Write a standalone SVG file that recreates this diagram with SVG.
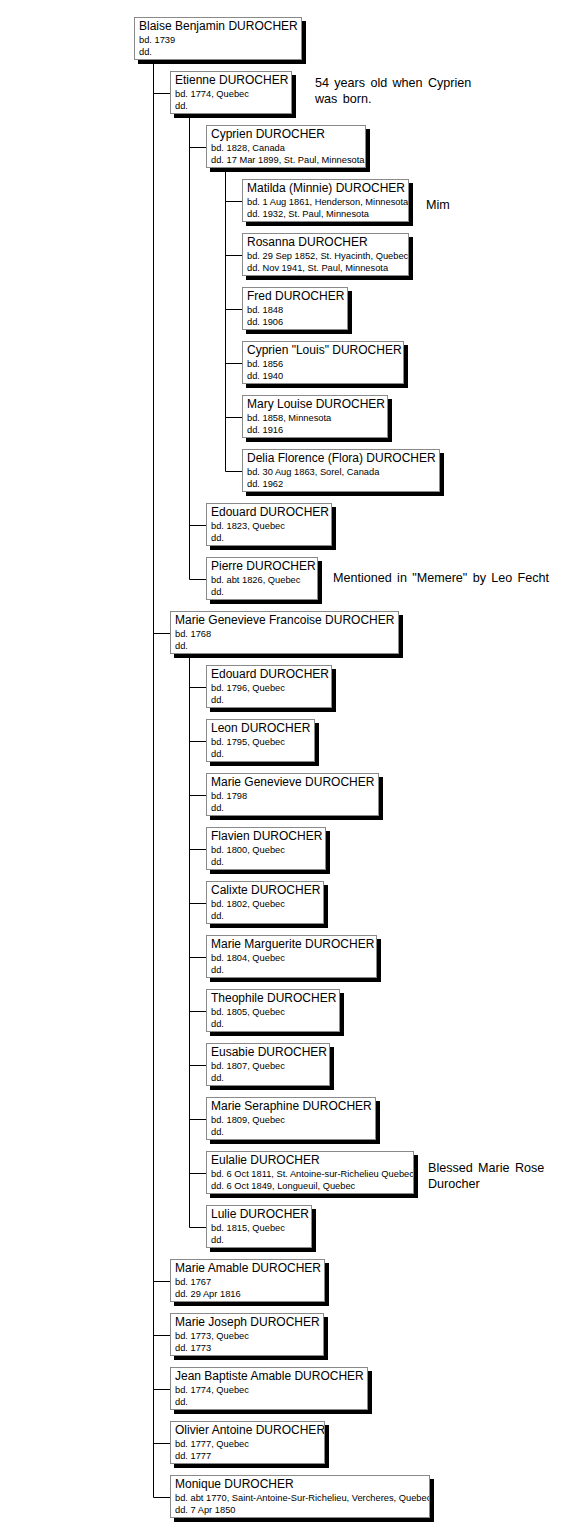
<svg xmlns="http://www.w3.org/2000/svg" width="575" height="1536" viewBox="0 0 575 1536">
<style>
.bg{fill:#ffffff}
.shadow{fill:#000000}
.box{fill:#ffffff;stroke:#8a8a8a;stroke-width:1}
.name{font-family:"Liberation Sans",Arial,sans-serif;font-size:12px;fill:#000}
.info{font-family:"Liberation Sans",Arial,sans-serif;font-size:9.3px;fill:#000}
.note{font-family:"Liberation Sans",Arial,sans-serif;font-size:12.6px;word-spacing:1.8px;fill:#000}
.conn{stroke:#000;stroke-width:1;fill:none}
</style>
<rect class="bg" x="0" y="0" width="575" height="1536"/>
<g id="connectors">
<path class="conn" d="M153.5 61V1497.5 M153.5 93.5H170 M153.5 633.5H170 M153.5 1281.5H170 M153.5 1335.5H170 M153.5 1389.5H170 M153.5 1443.5H170 M153.5 1497.5H170"/>
<path class="conn" d="M189.5 115V579.5 M189.5 147.5H206 M189.5 525.5H206 M189.5 579.5H206"/>
<path class="conn" d="M225.5 169V471.5 M225.5 201.5H242 M225.5 255.5H242 M225.5 309.5H242 M225.5 363.5H242 M225.5 417.5H242 M225.5 471.5H242"/>
<path class="conn" d="M189.5 655V1227.5 M189.5 687.5H206 M189.5 741.5H206 M189.5 795.5H206 M189.5 849.5H206 M189.5 903.5H206 M189.5 957.5H206 M189.5 1011.5H206 M189.5 1065.5H206 M189.5 1119.5H206 M189.5 1173.5H206 M189.5 1227.5H206"/>
</g>
<g id="n0"><rect class="shadow" x="138" y="21" width="168" height="43"/><rect class="box" x="134.5" y="17.5" width="167" height="42"/><svg x="135" y="18" width="166" height="41"><text class="name" x="4" y="12">Blaise Benjamin DUROCHER</text><text class="info" x="4" y="24.5">bd. 1739</text><text class="info" x="4" y="36.5">dd.</text></svg></g>
<g id="n1"><rect class="shadow" x="174" y="75" width="122" height="43"/><rect class="box" x="170.5" y="71.5" width="121" height="42"/><svg x="171" y="72" width="120" height="41"><text class="name" x="4" y="12">Etienne DUROCHER</text><text class="info" x="4" y="24.5">bd. 1774, Quebec</text><text class="info" x="4" y="36.5">dd.</text></svg></g>
<g id="n2"><rect class="shadow" x="210" y="129" width="160" height="43"/><rect class="box" x="206.5" y="125.5" width="159" height="42"/><svg x="207" y="126" width="158" height="41"><text class="name" x="4" y="12">Cyprien DUROCHER</text><text class="info" x="4" y="24.5">bd. 1828, Canada</text><text class="info" x="4" y="36.5">dd. 17 Mar 1899, St. Paul, Minnesota</text></svg></g>
<g id="n3"><rect class="shadow" x="246" y="183" width="167" height="43"/><rect class="box" x="242.5" y="179.5" width="166" height="42"/><svg x="243" y="180" width="165" height="41"><text class="name" x="4" y="12">Matilda (Minnie) DUROCHER</text><text class="info" x="4" y="24.5">bd. 1 Aug 1861, Henderson, Minnesota</text><text class="info" x="4" y="36.5">dd. 1932, St. Paul, Minnesota</text></svg></g>
<g id="n4"><rect class="shadow" x="246" y="237" width="167" height="43"/><rect class="box" x="242.5" y="233.5" width="166" height="42"/><svg x="243" y="234" width="165" height="41"><text class="name" x="4" y="12">Rosanna DUROCHER</text><text class="info" x="4" y="24.5">bd. 29 Sep 1852, St. Hyacinth, Quebec</text><text class="info" x="4" y="36.5">dd. Nov 1941, St. Paul, Minnesota</text></svg></g>
<g id="n5"><rect class="shadow" x="246" y="291" width="106" height="43"/><rect class="box" x="242.5" y="287.5" width="105" height="42"/><svg x="243" y="288" width="104" height="41"><text class="name" x="4" y="12">Fred DUROCHER</text><text class="info" x="4" y="24.5">bd. 1848</text><text class="info" x="4" y="36.5">dd. 1906</text></svg></g>
<g id="n6"><rect class="shadow" x="246" y="345" width="162" height="43"/><rect class="box" x="242.5" y="341.5" width="161" height="42"/><svg x="243" y="342" width="160" height="41"><text class="name" x="4" y="12">Cyprien "Louis" DUROCHER</text><text class="info" x="4" y="24.5">bd. 1856</text><text class="info" x="4" y="36.5">dd. 1940</text></svg></g>
<g id="n7"><rect class="shadow" x="246" y="399" width="146" height="43"/><rect class="box" x="242.5" y="395.5" width="145" height="42"/><svg x="243" y="396" width="144" height="41"><text class="name" x="4" y="12">Mary Louise DUROCHER</text><text class="info" x="4" y="24.5">bd. 1858, Minnesota</text><text class="info" x="4" y="36.5">dd. 1916</text></svg></g>
<g id="n8"><rect class="shadow" x="246" y="453" width="198" height="43"/><rect class="box" x="242.5" y="449.5" width="197" height="42"/><svg x="243" y="450" width="196" height="41"><text class="name" x="4" y="12">Delia Florence (Flora) DUROCHER</text><text class="info" x="4" y="24.5">bd. 30 Aug 1863, Sorel, Canada</text><text class="info" x="4" y="36.5">dd. 1962</text></svg></g>
<g id="n9"><rect class="shadow" x="210" y="507" width="126" height="43"/><rect class="box" x="206.5" y="503.5" width="125" height="42"/><svg x="207" y="504" width="124" height="41"><text class="name" x="4" y="12">Edouard DUROCHER</text><text class="info" x="4" y="24.5">bd. 1823, Quebec</text><text class="info" x="4" y="36.5">dd.</text></svg></g>
<g id="n10"><rect class="shadow" x="210" y="561" width="112" height="43"/><rect class="box" x="206.5" y="557.5" width="111" height="42"/><svg x="207" y="558" width="110" height="41"><text class="name" x="4" y="12">Pierre DUROCHER</text><text class="info" x="4" y="24.5">bd. abt 1826, Quebec</text><text class="info" x="4" y="36.5">dd.</text></svg></g>
<g id="n11"><rect class="shadow" x="174" y="615" width="229" height="43"/><rect class="box" x="170.5" y="611.5" width="228" height="42"/><svg x="171" y="612" width="227" height="41"><text class="name" x="4" y="12">Marie Genevieve Francoise DUROCHER</text><text class="info" x="4" y="24.5">bd. 1768</text><text class="info" x="4" y="36.5">dd.</text></svg></g>
<g id="n12"><rect class="shadow" x="210" y="669" width="126" height="43"/><rect class="box" x="206.5" y="665.5" width="125" height="42"/><svg x="207" y="666" width="124" height="41"><text class="name" x="4" y="12">Edouard DUROCHER</text><text class="info" x="4" y="24.5">bd. 1796, Quebec</text><text class="info" x="4" y="36.5">dd.</text></svg></g>
<g id="n13"><rect class="shadow" x="210" y="723" width="109" height="43"/><rect class="box" x="206.5" y="719.5" width="108" height="42"/><svg x="207" y="720" width="107" height="41"><text class="name" x="4" y="12">Leon DUROCHER</text><text class="info" x="4" y="24.5">bd. 1795, Quebec</text><text class="info" x="4" y="36.5">dd.</text></svg></g>
<g id="n14"><rect class="shadow" x="210" y="777" width="173" height="43"/><rect class="box" x="206.5" y="773.5" width="172" height="42"/><svg x="207" y="774" width="171" height="41"><text class="name" x="4" y="12">Marie Genevieve DUROCHER</text><text class="info" x="4" y="24.5">bd. 1798</text><text class="info" x="4" y="36.5">dd.</text></svg></g>
<g id="n15"><rect class="shadow" x="210" y="831" width="120" height="43"/><rect class="box" x="206.5" y="827.5" width="119" height="42"/><svg x="207" y="828" width="118" height="41"><text class="name" x="4" y="12">Flavien DUROCHER</text><text class="info" x="4" y="24.5">bd. 1800, Quebec</text><text class="info" x="4" y="36.5">dd.</text></svg></g>
<g id="n16"><rect class="shadow" x="210" y="885" width="118" height="43"/><rect class="box" x="206.5" y="881.5" width="117" height="42"/><svg x="207" y="882" width="116" height="41"><text class="name" x="4" y="12">Calixte DUROCHER</text><text class="info" x="4" y="24.5">bd. 1802, Quebec</text><text class="info" x="4" y="36.5">dd.</text></svg></g>
<g id="n17"><rect class="shadow" x="210" y="939" width="171" height="43"/><rect class="box" x="206.5" y="935.5" width="170" height="42"/><svg x="207" y="936" width="169" height="41"><text class="name" x="4" y="12">Marie Marguerite DUROCHER</text><text class="info" x="4" y="24.5">bd. 1804, Quebec</text><text class="info" x="4" y="36.5">dd.</text></svg></g>
<g id="n18"><rect class="shadow" x="210" y="993" width="134" height="43"/><rect class="box" x="206.5" y="989.5" width="133" height="42"/><svg x="207" y="990" width="132" height="41"><text class="name" x="4" y="12">Theophile DUROCHER</text><text class="info" x="4" y="24.5">bd. 1805, Quebec</text><text class="info" x="4" y="36.5">dd.</text></svg></g>
<g id="n19"><rect class="shadow" x="210" y="1047" width="124" height="43"/><rect class="box" x="206.5" y="1043.5" width="123" height="42"/><svg x="207" y="1044" width="122" height="41"><text class="name" x="4" y="12">Eusabie DUROCHER</text><text class="info" x="4" y="24.5">bd. 1807, Quebec</text><text class="info" x="4" y="36.5">dd.</text></svg></g>
<g id="n20"><rect class="shadow" x="210" y="1101" width="170" height="43"/><rect class="box" x="206.5" y="1097.5" width="169" height="42"/><svg x="207" y="1098" width="168" height="41"><text class="name" x="4" y="12">Marie Seraphine DUROCHER</text><text class="info" x="4" y="24.5">bd. 1809, Quebec</text><text class="info" x="4" y="36.5">dd.</text></svg></g>
<g id="n21"><rect class="shadow" x="210" y="1155" width="208" height="43"/><rect class="box" x="206.5" y="1151.5" width="207" height="42"/><svg x="207" y="1152" width="206" height="41"><text class="name" x="4" y="12">Eulalie DUROCHER</text><text class="info" x="4" y="24.5">bd. 6 Oct 1811, St. Antoine-sur-Richelieu Quebec</text><text class="info" x="4" y="36.5">dd. 6 Oct 1849, Longueuil, Quebec</text></svg></g>
<g id="n22"><rect class="shadow" x="210" y="1209" width="106" height="43"/><rect class="box" x="206.5" y="1205.5" width="105" height="42"/><svg x="207" y="1206" width="104" height="41"><text class="name" x="4" y="12">Lulie DUROCHER</text><text class="info" x="4" y="24.5">bd. 1815, Quebec</text><text class="info" x="4" y="36.5">dd.</text></svg></g>
<g id="n23"><rect class="shadow" x="174" y="1263" width="155" height="43"/><rect class="box" x="170.5" y="1259.5" width="154" height="42"/><svg x="171" y="1260" width="153" height="41"><text class="name" x="4" y="12">Marie Amable DUROCHER</text><text class="info" x="4" y="24.5">bd. 1767</text><text class="info" x="4" y="36.5">dd. 29 Apr 1816</text></svg></g>
<g id="n24"><rect class="shadow" x="174" y="1317" width="154" height="43"/><rect class="box" x="170.5" y="1313.5" width="153" height="42"/><svg x="171" y="1314" width="152" height="41"><text class="name" x="4" y="12">Marie Joseph DUROCHER</text><text class="info" x="4" y="24.5">bd. 1773, Quebec</text><text class="info" x="4" y="36.5">dd. 1773</text></svg></g>
<g id="n25"><rect class="shadow" x="174" y="1371" width="198" height="43"/><rect class="box" x="170.5" y="1367.5" width="197" height="42"/><svg x="171" y="1368" width="196" height="41"><text class="name" x="4" y="12">Jean Baptiste Amable DUROCHER</text><text class="info" x="4" y="24.5">bd. 1774, Quebec</text><text class="info" x="4" y="36.5">dd.</text></svg></g>
<g id="n26"><rect class="shadow" x="174" y="1425" width="155" height="43"/><rect class="box" x="170.5" y="1421.5" width="154" height="42"/><svg x="171" y="1422" width="153" height="41"><text class="name" x="4" y="12">Olivier Antoine DUROCHER</text><text class="info" x="4" y="24.5">bd. 1777, Quebec</text><text class="info" x="4" y="36.5">dd. 1777</text></svg></g>
<g id="n27"><rect class="shadow" x="174" y="1479" width="260" height="43"/><rect class="box" x="170.5" y="1475.5" width="259" height="42"/><svg x="171" y="1476" width="258" height="41"><text class="name" x="4" y="12">Monique DUROCHER</text><text class="info" x="4" y="24.5">bd. abt 1770, Saint-Antoine-Sur-Richelieu, Vercheres, Quebec</text><text class="info" x="4" y="36.5">dd. 7 Apr 1850</text></svg></g>
<g id="notes">
<text class="note" x="315" y="87">54 years old when Cyprien</text>
<text class="note" x="315" y="103">was born.</text>
<text class="note" x="426" y="209">Mim</text>
<text class="note" x="333" y="582">Mentioned in "Memere" by Leo Fecht</text>
<text class="note" x="428" y="1172">Blessed Marie Rose</text>
<text class="note" x="428" y="1188">Durocher</text>
</g>
</svg>
